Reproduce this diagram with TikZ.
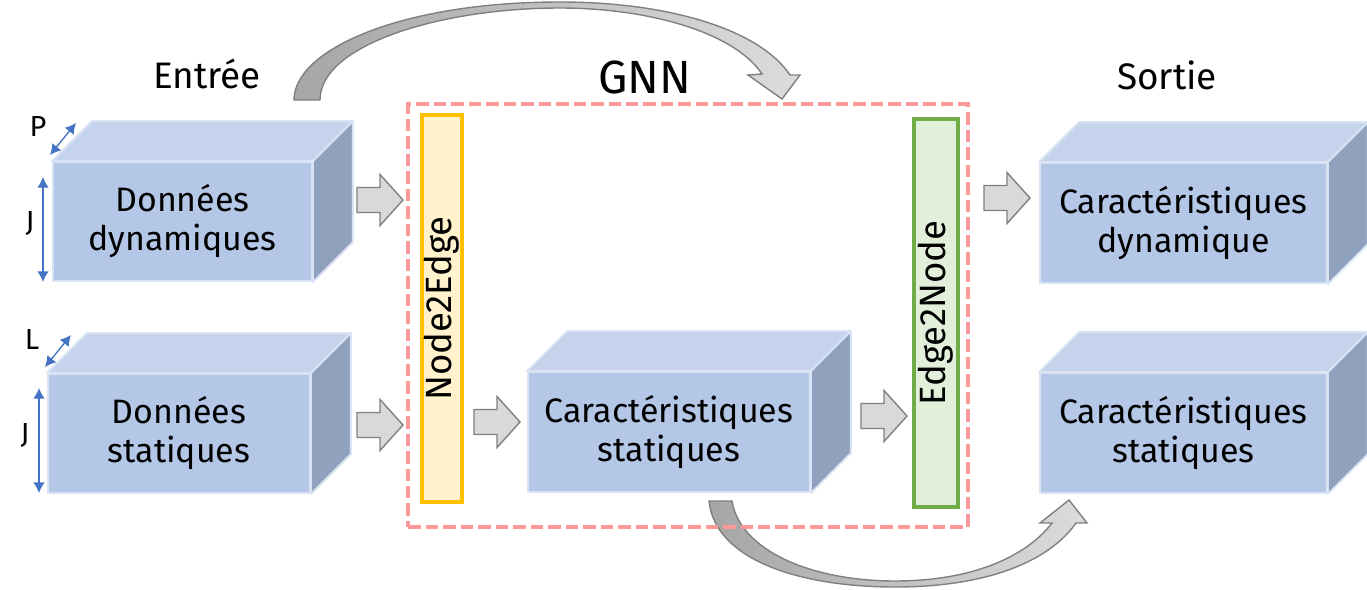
\documentclass[tikz,border=0pt]{standalone}
\usepackage{fontspec}
\setmainfont{Fira Sans}
\usetikzlibrary{arrows.meta}

\definecolor{cubefront}{HTML}{B4C7E7}
\definecolor{cubetopc}{HTML}{C5D4EC}
\definecolor{cubesidec}{HTML}{8FA1BD}
\definecolor{cubeedge}{HTML}{DAE3F3}
\definecolor{nodeedgedraw}{HTML}{FFC000}
\definecolor{nodeedgefill}{HTML}{FFF2CC}
\definecolor{edgenodedraw}{HTML}{70AD47}
\definecolor{edgenodefill}{HTML}{E2EFDA}
\definecolor{gnnred}{HTML}{FF9999}
\definecolor{flowfill}{HTML}{D9D9D9}
\definecolor{flowedge}{HTML}{808080}
\definecolor{bigdark}{HTML}{A6A6A6}
\definecolor{biglight}{HTML}{DCDCDC}
\definecolor{dimblue}{HTML}{4472C4}

\begin{document}
\begin{tikzpicture}[x=0.02cm, y=-0.02cm,
    cube/.style={rectangle, draw=cubeedge, line width=1.1pt, fill=cubefront,
                 minimum height=2.38cm, inner sep=0pt, align=center,
                 font=\fontsize{19.3}{22.2}\selectfont},
    cubetop/.style={fill=cubetopc, draw=cubeedge, line width=1.1pt, line join=round},
    cubeside/.style={fill=cubesidec, draw=cubeedge, line width=1.1pt, line join=round},
    layer/.style={rectangle, rotate=90, line width=2.3pt, minimum width=7.74cm,
                  minimum height=0.8cm, inner sep=0pt, font=\fontsize{20.8}{24}\selectfont},
    heading/.style={font=\fontsize{21}{24}\selectfont},
    dimlabel/.style={font=\fontsize{16.5}{19}\selectfont},
    dimarrow/.style={{Latex[length=6pt,width=6.5pt]}-{Latex[length=6pt,width=6.5pt]},
                     draw=dimblue, line width=0.75pt},
    flow/.style={fill=flowfill, draw=flowedge, line width=0.8pt},
    bigarrow/.style={draw=flowedge, line width=0.8pt, left color=bigdark, right color=biglight},
    gnnbox/.style={rectangle, draw=gnnred, line width=2.7pt, dash pattern=on 0.25cm off 0.1cm,
                   minimum width=11.2cm, minimum height=8.46cm}
]
\useasboundingbox (0,0) rectangle (1367,589);

% Titres
\node[heading] (entree) at (207,74) {Entrée};
\node[heading] (sortie) at (1167,75) {Sortie};
\node[font=\fontsize{26.5}{30}\selectfont] (gnnlabel) at (645,77) {GNN};

% Fleches courbes
\draw[bigarrow] (294,100) .. controls (294,50) and (400,2) .. (560,2)
    .. controls (670,2) and (760,30) .. (790,75) -- (800,75) -- (782,99)
    -- (748,75) -- (762,74) .. controls (735,33) and (650,8) .. (560,8)
    .. controls (440,8) and (320,45) .. (320,100) -- cycle;
\draw[bigarrow] (709,501) .. controls (715,560) and (800,587) .. (895,587)
    .. controls (990,587) and (1050,560) .. (1076,523) -- (1087,523) -- (1069,500)
    -- (1040,523) -- (1052,523) .. controls (1030,552) and (980,581) .. (895,581)
    .. controls (810,581) and (740,550) .. (732,501) -- cycle;

% Bloc GNN
\node[gnnbox] (gnn) at (688,315.5) {};
\node[layer, draw=nodeedgedraw, fill=nodeedgefill] (n2e) at (442,308.5) {Node2Edge};
\node[layer, draw=edgenodedraw, fill=edgenodefill, minimum width=7.76cm,
      minimum height=0.88cm] (e2n) at (936,313) {Edge2Node};

% Cubes
\node[cube, minimum width=5.18cm] (dyn) at (182.5,221.5) {Données\\dynamiques};
\node[cube, minimum width=5.24cm] (stat) at (179,433.5) {Données\\statiques};
\node[cube, minimum width=5.64cm, minimum height=2.4cm] (midstat) at (669,432)
    {Caractéristiques\\statiques};
\node[cube, minimum width=5.74cm, minimum height=2.4cm] (outdyn) at (1183.5,223)
    {Caractéristiques\\dynamique};
\node[cube, minimum width=5.74cm, minimum height=2.4cm] (outstat) at (1183.5,433)
    {Caractéristiques\\statiques};

\foreach \c in {dyn,stat,midstat,outdyn,outstat} {
    \draw[cubetop] (\c.north west) -- ++(40,-40) -- ([shift={(40,-40)}]\c.north east)
        -- (\c.north east) -- cycle;
    \draw[cubeside] (\c.north east) -- ([shift={(40,-40)}]\c.north east)
        -- ([shift={(40,-40)}]\c.south east) -- (\c.south east) -- cycle;
}

% Dimensions
\node[dimlabel] (p) at (38,127) {P};
\node[dimlabel] (j1) at (30,223) {J};
\node[dimlabel] (l) at (32,340) {L};
\node[dimlabel] (j2) at (25,435) {J};
\draw[dimarrow] (50,155) -- (76,123);
\draw[dimarrow] (43,177) -- (43,282);
\draw[dimarrow] (45,367) -- (71,335);
\draw[dimarrow] (39,388) -- (39,493);

% Fleches de passage
\foreach \x/\y in {357/200, 357/425, 474/422, 861/416, 984/198} {
    \draw[flow] (\x,\y) ++(0,-12.5) -- ++(23,0) -- ++(0,-13) -- ++(23,25.5)
        -- ++(-23,25.5) -- ++(0,-13) -- ++(-23,0) -- cycle;
}

\end{tikzpicture}
\end{document}
